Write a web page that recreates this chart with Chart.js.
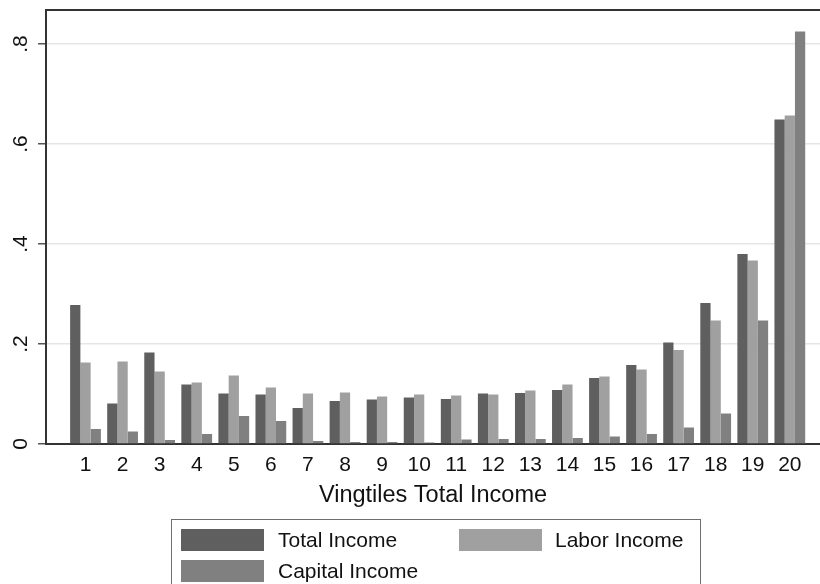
<!DOCTYPE html>
<html lang="en">
<head>
  <meta charset="UTF-8" />
  <title>Income shares by vingtile</title>
  <script src="https://cdn.jsdelivr.net/npm/chart.js"></script>
  <style>
    body {
      margin: 0;
      padding: 0;
      background: #fff;
      font-family: 'Liberation Sans', Arial, sans-serif;
    }
    .wrap {
      position: relative;
      width: 820px;
      height: 584px;
      overflow: hidden;
    }
    /* legend box under the chart */
    .legend {
      position: absolute;
      left: 171px;
      top: 519px;
      width: 530px;
      height: 90px;
      border: 1px solid #6e6e6e;
      box-sizing: border-box;
    }
    .legend-item {
      position: absolute;
      height: 22px;
      font-size: 21px;
      color: #111;
      white-space: nowrap;
    }
    .legend-item span.box {
      position: absolute;
      left: 0;
      top: 0;
      width: 83px;
      height: 22px;
    }
    .legend-item span.txt {
      position: absolute;
      top: -1px;
      line-height: 24px;
    }
  </style>
</head>
<body>
  <div class="wrap">
    <canvas id="vingChart" width="820" height="584"></canvas>
    <div class="legend" id="legend"></div>
  </div>

  <script>
    // data
    const vingtiles = [1, 2, 3, 4, 5, 6, 7, 8, 9, 10, 11, 12, 13, 14, 15, 16, 17, 18, 19, 20];
    const xLabels = ['1', '2', '3', '4', '5', '6', '7', '8', '9', '10',
                     '11', '12', '13', '14', '15', '16', '17', '18', '19', '20'];
    const totalIncome = [0.278, 0.081, 0.183, 0.119, 0.101, 0.099, 0.072, 0.086, 0.089, 0.093,
                         0.090, 0.101, 0.102, 0.108, 0.132, 0.158, 0.203, 0.282, 0.380, 0.649];
    const laborIncome = [0.163, 0.165, 0.145, 0.123, 0.137, 0.113, 0.101, 0.103, 0.095, 0.099,
                         0.097, 0.099, 0.107, 0.119, 0.135, 0.149, 0.188, 0.247, 0.367, 0.657];
    const capitalIncome = [0.030, 0.025, 0.008, 0.020, 0.056, 0.046, 0.006, 0.004, 0.004, 0.003,
                           0.009, 0.010, 0.010, 0.012, 0.015, 0.020, 0.033, 0.061, 0.247, 0.825];
    const yTickValues = [0, 0.2, 0.4, 0.6, 0.8];
    const yTickLabels = ['0', '.2', '.4', '.6', '.8'];
    const seriesNames = ['Total Income', 'Labor Income', 'Capital Income'];
    const seriesColors = ['#5f5f5f', '#a0a0a0', '#808080'];

    const FONT = "'Liberation Sans', Arial, sans-serif";
    const TEXT = '#111';

    function points(values) {
      return vingtiles.map((v, i) => ({ x: v, y: values[i] }));
    }

    const seriesValues = [totalIncome, laborIncome, capitalIncome];
    const datasets = seriesNames.map((name, i) => ({
      label: name,
      data: points(seriesValues[i]),
      backgroundColor: seriesColors[i],
      borderWidth: 0,
      categoryPercentage: 0.83,
      barPercentage: 1.0
    }));

    // top frame line of the plot region
    const topFrame = {
      id: 'topFrame',
      afterDraw(chart) {
        const { ctx, chartArea } = chart;
        ctx.save();
        ctx.strokeStyle = '#333';
        ctx.lineWidth = 2;
        ctx.beginPath();
        ctx.moveTo(chartArea.left - 1, chartArea.top);
        ctx.lineTo(chartArea.right, chartArea.top);
        ctx.stroke();
        ctx.restore();
      }
    };

    const ctx = document.getElementById('vingChart').getContext('2d');
    new Chart(ctx, {
      type: 'bar',
      data: { datasets: datasets },
      options: {
        responsive: false,
        animation: false,
        layout: { padding: { top: 10, left: 0, right: 0, bottom: 0 } },
        plugins: {
          legend: { display: false },
          tooltip: { enabled: false }
        },
        scales: {
          x: {
            type: 'linear',
            min: -0.066,
            max: 20.814,
            offset: false,
            grid: { display: false, drawTicks: false, offset: false },
            border: { display: true, color: '#333', width: 2 },
            afterBuildTicks: scale => {
              scale.ticks = vingtiles.map(v => ({ value: v }));
            },
            afterFit: scale => {
              scale.height = 140;
              scale.paddingLeft = 0;
              scale.paddingRight = 0;
            },
            ticks: {
              autoSkip: false,
              maxRotation: 0,
              padding: 9,
              color: TEXT,
              font: { family: FONT, size: 21 },
              callback: (value, index) => xLabels[index]
            },
            title: {
              display: true,
              text: 'Vingtiles Total Income',
              color: TEXT,
              font: { family: FONT, size: 23.5 },
              padding: { top: 0, bottom: 74 }
            }
          },
          y: {
            min: 0,
            max: 0.868,
            grid: {
              color: '#e6e6e6',
              lineWidth: 1.5,
              tickColor: '#555',
              tickWidth: 1.5,
              tickLength: 8
            },
            border: { display: true, color: '#333', width: 2 },
            afterBuildTicks: scale => {
              scale.ticks = yTickValues.map(v => ({ value: v }));
            },
            afterFit: scale => {
              scale.width = 46;
              scale.paddingTop = 0;
              scale.paddingBottom = 0;
            },
            ticks: {
              minRotation: 90,
              maxRotation: 90,
              crossAlign: 'center',
              padding: 8,
              color: TEXT,
              font: { family: FONT, size: 21 },
              callback: (value, index) => yTickLabels[index]
            }
          }
        }
      },
      plugins: [topFrame]
    });

    // legend built from the same series lists
    const legendPos = [
      { left: 9, top: 9, text: 97 },
      { left: 287, top: 9, text: 96 },
      { left: 9, top: 40, text: 97 }
    ];
    const legend = document.getElementById('legend');
    seriesNames.forEach((name, i) => {
      const item = document.createElement('div');
      item.className = 'legend-item';
      item.style.left = legendPos[i].left + 'px';
      item.style.top = legendPos[i].top + 'px';
      item.innerHTML = '<span class="box" style="background:' + seriesColors[i] + '"></span>' +
        '<span class="txt" style="left:' + legendPos[i].text + 'px">' + name + '</span>';
      legend.appendChild(item);
    });
  </script>
</body>
</html>
